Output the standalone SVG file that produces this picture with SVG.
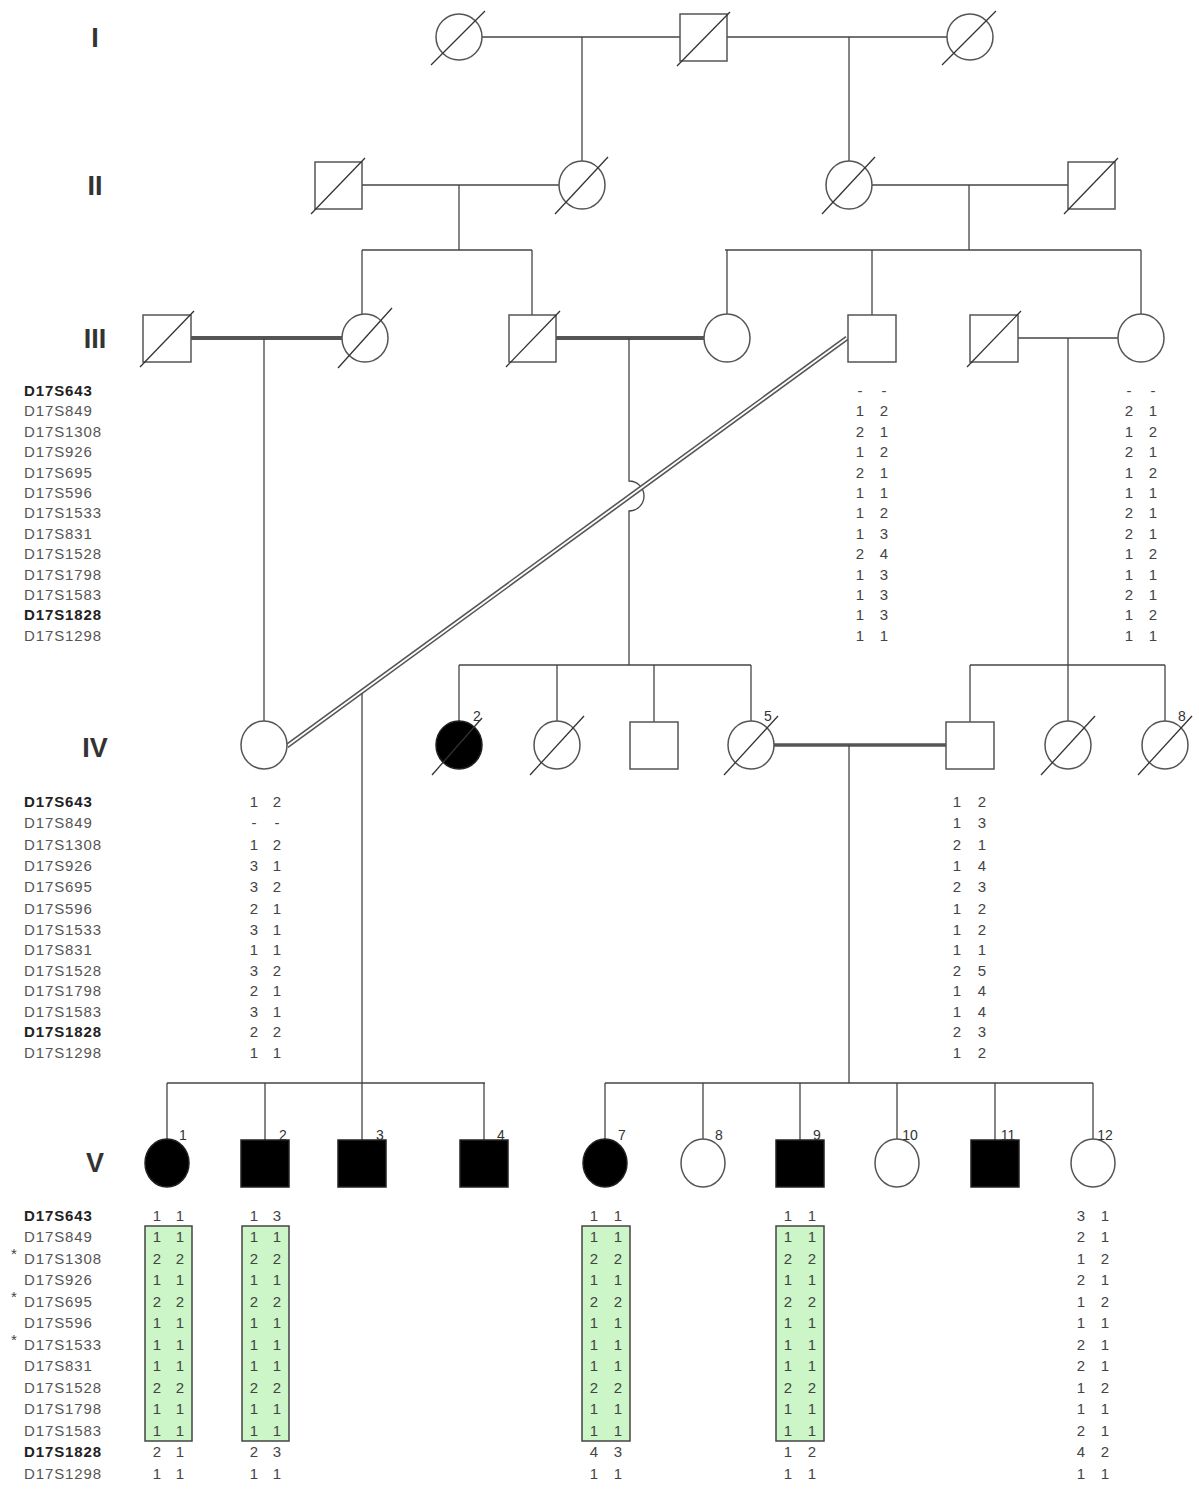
<svg xmlns="http://www.w3.org/2000/svg" width="1199" height="1494" viewBox="0 0 1199 1494">
<style>
.bg{fill:#fff}
.ln{stroke:#444;stroke-width:1.3;fill:none}
.thick{stroke:#555;stroke-width:4;fill:none}
.sh{stroke:#555;stroke-width:1.5;fill:#fff}
.aff{stroke:#222;stroke-width:1.5;fill:#000}
.sl{stroke:#333;stroke-width:1.3}
.gen{font-family:"Liberation Sans",Arial,sans-serif;font-weight:bold;font-size:27px;fill:#333;text-anchor:middle}
.nm{font-family:"Liberation Sans",Arial,sans-serif;font-size:15px;letter-spacing:0.9px;fill:#555}
.nb{font-weight:bold;fill:#222}
.v{font-family:"Liberation Sans",Arial,sans-serif;font-size:15px;fill:#444;text-anchor:middle}
.lab{font-family:"Liberation Sans",Arial,sans-serif;font-size:14px;fill:#333;text-anchor:middle}
.box{fill:#ccf5c8;stroke:#444;stroke-width:1.5}
</style>
<rect class="bg" x="0" y="0" width="1199" height="1494"/>

<g id="generation-labels">
<text class="gen" x="95" y="47">I</text>
<text class="gen" x="95" y="195">II</text>
<text class="gen" x="95" y="348">III</text>
<text class="gen" x="95" y="757">IV</text>
<text class="gen" x="95" y="1172">V</text>
</g>

<g id="connectors">
<line class="ln" x1="482" y1="37" x2="680" y2="37"/>
<line class="ln" x1="727" y1="37" x2="947" y2="37"/>
<line class="ln" x1="582" y1="37" x2="582" y2="162"/>
<line class="ln" x1="849" y1="37" x2="849" y2="162"/>
<line class="ln" x1="362" y1="185" x2="559" y2="185"/>
<line class="ln" x1="459" y1="185" x2="459" y2="250"/>
<line class="ln" x1="872" y1="185" x2="1068" y2="185"/>
<line class="ln" x1="969" y1="185" x2="969" y2="250"/>
<line class="ln" x1="362" y1="250" x2="532" y2="250"/>
<line class="ln" x1="362" y1="250" x2="362" y2="315"/>
<line class="ln" x1="532" y1="250" x2="532" y2="315"/>
<line class="ln" x1="725" y1="250" x2="1141" y2="250"/>
<line class="ln" x1="727" y1="250" x2="727" y2="315"/>
<line class="ln" x1="872" y1="250" x2="872" y2="315"/>
<line class="ln" x1="1141" y1="250" x2="1141" y2="315"/>
<line class="thick" x1="191" y1="338" x2="342" y2="338"/>
<line class="ln" x1="264" y1="338" x2="264" y2="722"/>
<line class="thick" x1="556" y1="338" x2="704" y2="338"/>
<path class="ln" d="M629,338 L629,481 A15,15 0 0 1 629,511 L629,665"/>
<line class="ln" x1="1018" y1="338" x2="1118" y2="338"/>
<line class="ln" x1="1068" y1="338" x2="1068" y2="722"/>
<line x1="847" y1="338" x2="287" y2="746" stroke="#555" stroke-width="5"/>
<line x1="847" y1="338" x2="287" y2="746" stroke="#fff" stroke-width="1.8"/>
<line class="ln" x1="362" y1="693" x2="362" y2="1083"/>
<line class="ln" x1="459" y1="665" x2="751" y2="665"/>
<line class="ln" x1="459" y1="665" x2="459" y2="722"/>
<line class="ln" x1="557" y1="665" x2="557" y2="722"/>
<line class="ln" x1="654" y1="665" x2="654" y2="722"/>
<line class="ln" x1="751" y1="665" x2="751" y2="722"/>
<line class="ln" x1="970" y1="665" x2="1165" y2="665"/>
<line class="ln" x1="970" y1="665" x2="970" y2="722"/>
<line class="ln" x1="1165" y1="665" x2="1165" y2="722"/>
<line class="thick" x1="774" y1="745" x2="946" y2="745" style="stroke-width:3.5"/>
<line class="ln" x1="849" y1="745" x2="849" y2="1083"/>
<line class="ln" x1="167" y1="1083" x2="485" y2="1083"/>
<line class="ln" x1="167" y1="1083" x2="167" y2="1140"/>
<line class="ln" x1="265" y1="1083" x2="265" y2="1140"/>
<line class="ln" x1="362" y1="1083" x2="362" y2="1140"/>
<line class="ln" x1="484" y1="1083" x2="484" y2="1140"/>
<line class="ln" x1="605" y1="1083" x2="1093" y2="1083"/>
<line class="ln" x1="605" y1="1083" x2="605" y2="1140"/>
<line class="ln" x1="703" y1="1083" x2="703" y2="1140"/>
<line class="ln" x1="800" y1="1083" x2="800" y2="1140"/>
<line class="ln" x1="897" y1="1083" x2="897" y2="1140"/>
<line class="ln" x1="995" y1="1083" x2="995" y2="1140"/>
<line class="ln" x1="1093" y1="1083" x2="1093" y2="1140"/>
</g>

<g id="I-1"><ellipse class="sh" cx="459" cy="37" rx="23" ry="23"/><line class="sl" x1="431" y1="65" x2="485" y2="11"/></g>
<g id="I-2"><rect class="sh" x="680" y="14" width="47" height="47"/><line class="sl" x1="677" y1="66" x2="730" y2="12"/></g>
<g id="I-3"><ellipse class="sh" cx="970" cy="37" rx="23" ry="23"/><line class="sl" x1="942" y1="65" x2="996" y2="11"/></g>

<g id="II-1"><rect class="sh" x="315" y="162" width="47" height="47"/><line class="sl" x1="311" y1="214" x2="365" y2="158"/></g>
<g id="II-2"><ellipse class="sh" cx="582" cy="185" rx="23" ry="24"/><line class="sl" x1="555" y1="214" x2="608" y2="157"/></g>
<g id="II-3"><ellipse class="sh" cx="849" cy="185" rx="23" ry="24"/><line class="sl" x1="822" y1="214" x2="875" y2="157"/></g>
<g id="II-4"><rect class="sh" x="1068" y="162" width="47" height="47"/><line class="sl" x1="1064" y1="214" x2="1118" y2="158"/></g>

<g id="III-1"><rect class="sh" x="143" y="315" width="48" height="47"/><line class="sl" x1="140" y1="367" x2="194" y2="311"/></g>
<g id="III-2"><ellipse class="sh" cx="365" cy="338" rx="23" ry="24"/><line class="sl" x1="338" y1="368" x2="392" y2="308"/></g>
<g id="III-3"><rect class="sh" x="509" y="315" width="47" height="47"/><line class="sl" x1="506" y1="367" x2="560" y2="311"/></g>
<g id="III-4"><ellipse class="sh" cx="727" cy="338" rx="23" ry="24"/></g>
<g id="III-5"><rect class="sh" x="848" y="315" width="48" height="47"/></g>
<g id="III-6"><rect class="sh" x="970" y="315" width="48" height="47"/><line class="sl" x1="967" y1="367" x2="1021" y2="311"/></g>
<g id="III-7"><ellipse class="sh" cx="1141" cy="338" rx="23" ry="24"/></g>

<g id="IV-1"><ellipse class="sh" cx="264" cy="745" rx="23" ry="24"/></g>
<g id="IV-2"><ellipse class="aff" cx="459" cy="745" rx="23" ry="24"/><line class="sl" x1="432" y1="775" x2="482" y2="718"/><text class="lab" x="477" y="721">2</text></g>
<g id="IV-3"><ellipse class="sh" cx="557" cy="745" rx="23" ry="24"/><line class="sl" x1="530" y1="775" x2="584" y2="716"/></g>
<g id="IV-4"><rect class="sh" x="630" y="722" width="48" height="47"/></g>
<g id="IV-5"><ellipse class="sh" cx="751" cy="745" rx="23" ry="24"/><line class="sl" x1="724" y1="775" x2="778" y2="716"/><text class="lab" x="768" y="721">5</text></g>
<g id="IV-6"><rect class="sh" x="946" y="722" width="48" height="47"/></g>
<g id="IV-7"><ellipse class="sh" cx="1068" cy="745" rx="23" ry="24"/><line class="sl" x1="1041" y1="775" x2="1095" y2="716"/></g>
<g id="IV-8"><ellipse class="sh" cx="1165" cy="745" rx="23" ry="24"/><line class="sl" x1="1138" y1="775" x2="1192" y2="716"/><text class="lab" x="1182" y="721">8</text></g>

<g id="V-1"><ellipse class="aff" cx="167" cy="1163" rx="22" ry="24"/><text class="lab" x="183" y="1140">1</text></g>
<g id="V-2"><rect class="aff" x="241" y="1140" width="48" height="47"/><text class="lab" x="283" y="1140">2</text></g>
<g id="V-3"><rect class="aff" x="338" y="1140" width="48" height="47"/><text class="lab" x="380" y="1140">3</text></g>
<g id="V-4"><rect class="aff" x="460" y="1140" width="48" height="47"/><text class="lab" x="501" y="1140">4</text></g>
<g id="V-7"><ellipse class="aff" cx="605" cy="1163" rx="22" ry="24"/><text class="lab" x="622" y="1140">7</text></g>
<g id="V-8"><ellipse class="sh" cx="703" cy="1163" rx="22" ry="24"/><text class="lab" x="719" y="1140">8</text></g>
<g id="V-9"><rect class="aff" x="776" y="1140" width="48" height="47"/><text class="lab" x="817" y="1140">9</text></g>
<g id="V-10"><ellipse class="sh" cx="897" cy="1163" rx="22" ry="24"/><text class="lab" x="910" y="1140">10</text></g>
<g id="V-11"><rect class="aff" x="971" y="1140" width="48" height="47"/><text class="lab" x="1008" y="1140">11</text></g>
<g id="V-12"><ellipse class="sh" cx="1093" cy="1163" rx="22" ry="24"/><text class="lab" x="1105" y="1140">12</text></g>

<g id="markers-III">
<text class="nm nb" x="24" y="396">D17S643</text>
<text class="nm" x="24" y="416">D17S849</text>
<text class="nm" x="24" y="437">D17S1308</text>
<text class="nm" x="24" y="457">D17S926</text>
<text class="nm" x="24" y="478">D17S695</text>
<text class="nm" x="24" y="498">D17S596</text>
<text class="nm" x="24" y="518">D17S1533</text>
<text class="nm" x="24" y="539">D17S831</text>
<text class="nm" x="24" y="559">D17S1528</text>
<text class="nm" x="24" y="580">D17S1798</text>
<text class="nm" x="24" y="600">D17S1583</text>
<text class="nm nb" x="24" y="620">D17S1828</text>
<text class="nm" x="24" y="641">D17S1298</text>
</g>
<g id="haplo-III-5">
<text class="v" x="860 884" y="396">--</text>
<text class="v" x="860 884" y="416">12</text>
<text class="v" x="860 884" y="437">21</text>
<text class="v" x="860 884" y="457">12</text>
<text class="v" x="860 884" y="478">21</text>
<text class="v" x="860 884" y="498">11</text>
<text class="v" x="860 884" y="518">12</text>
<text class="v" x="860 884" y="539">13</text>
<text class="v" x="860 884" y="559">24</text>
<text class="v" x="860 884" y="580">13</text>
<text class="v" x="860 884" y="600">13</text>
<text class="v" x="860 884" y="620">13</text>
<text class="v" x="860 884" y="641">11</text>
</g>
<g id="haplo-III-7">
<text class="v" x="1129 1153" y="396">--</text>
<text class="v" x="1129 1153" y="416">21</text>
<text class="v" x="1129 1153" y="437">12</text>
<text class="v" x="1129 1153" y="457">21</text>
<text class="v" x="1129 1153" y="478">12</text>
<text class="v" x="1129 1153" y="498">11</text>
<text class="v" x="1129 1153" y="518">21</text>
<text class="v" x="1129 1153" y="539">21</text>
<text class="v" x="1129 1153" y="559">12</text>
<text class="v" x="1129 1153" y="580">11</text>
<text class="v" x="1129 1153" y="600">21</text>
<text class="v" x="1129 1153" y="620">12</text>
<text class="v" x="1129 1153" y="641">11</text>
</g>

<g id="markers-IV">
<text class="nm nb" x="24" y="807">D17S643</text>
<text class="nm" x="24" y="828">D17S849</text>
<text class="nm" x="24" y="850">D17S1308</text>
<text class="nm" x="24" y="871">D17S926</text>
<text class="nm" x="24" y="892">D17S695</text>
<text class="nm" x="24" y="914">D17S596</text>
<text class="nm" x="24" y="935">D17S1533</text>
<text class="nm" x="24" y="955">D17S831</text>
<text class="nm" x="24" y="976">D17S1528</text>
<text class="nm" x="24" y="996">D17S1798</text>
<text class="nm" x="24" y="1017">D17S1583</text>
<text class="nm nb" x="24" y="1037">D17S1828</text>
<text class="nm" x="24" y="1058">D17S1298</text>
</g>
<g id="haplo-IV-1">
<text class="v" x="254 277" y="807">12</text>
<text class="v" x="254 277" y="828">--</text>
<text class="v" x="254 277" y="850">12</text>
<text class="v" x="254 277" y="871">31</text>
<text class="v" x="254 277" y="892">32</text>
<text class="v" x="254 277" y="914">21</text>
<text class="v" x="254 277" y="935">31</text>
<text class="v" x="254 277" y="955">11</text>
<text class="v" x="254 277" y="976">32</text>
<text class="v" x="254 277" y="996">21</text>
<text class="v" x="254 277" y="1017">31</text>
<text class="v" x="254 277" y="1037">22</text>
<text class="v" x="254 277" y="1058">11</text>
</g>
<g id="haplo-IV-6">
<text class="v" x="957 982" y="807">12</text>
<text class="v" x="957 982" y="828">13</text>
<text class="v" x="957 982" y="850">21</text>
<text class="v" x="957 982" y="871">14</text>
<text class="v" x="957 982" y="892">23</text>
<text class="v" x="957 982" y="914">12</text>
<text class="v" x="957 982" y="935">12</text>
<text class="v" x="957 982" y="955">11</text>
<text class="v" x="957 982" y="976">25</text>
<text class="v" x="957 982" y="996">14</text>
<text class="v" x="957 982" y="1017">14</text>
<text class="v" x="957 982" y="1037">23</text>
<text class="v" x="957 982" y="1058">12</text>
</g>

<g id="markers-V">
<text class="nm nb" x="24" y="1221">D17S643</text>
<text class="nm" x="24" y="1242">D17S849</text>
<text class="nm" x="24" y="1264">D17S1308</text>
<text class="nm" x="24" y="1285">D17S926</text>
<text class="nm" x="24" y="1307">D17S695</text>
<text class="nm" x="24" y="1328">D17S596</text>
<text class="nm" x="24" y="1350">D17S1533</text>
<text class="nm" x="24" y="1371">D17S831</text>
<text class="nm" x="24" y="1393">D17S1528</text>
<text class="nm" x="24" y="1414">D17S1798</text>
<text class="nm" x="24" y="1436">D17S1583</text>
<text class="nm nb" x="24" y="1457">D17S1828</text>
<text class="nm" x="24" y="1479">D17S1298</text>
<text class="v" x="14" y="1259">*</text>
<text class="v" x="14" y="1302">*</text>
<text class="v" x="14" y="1345">*</text>
</g>

<g id="boxes">
<rect class="box" x="145" y="1226" width="47" height="215"/>
<rect class="box" x="242" y="1226" width="47" height="215"/>
<rect class="box" x="582" y="1226" width="48" height="215"/>
<rect class="box" x="776" y="1226" width="48" height="215"/>
</g>

<g id="haplo-V-1">
<text class="v" x="157 180" y="1221">11</text>
<text class="v" x="157 180" y="1242">11</text>
<text class="v" x="157 180" y="1264">22</text>
<text class="v" x="157 180" y="1285">11</text>
<text class="v" x="157 180" y="1307">22</text>
<text class="v" x="157 180" y="1328">11</text>
<text class="v" x="157 180" y="1350">11</text>
<text class="v" x="157 180" y="1371">11</text>
<text class="v" x="157 180" y="1393">22</text>
<text class="v" x="157 180" y="1414">11</text>
<text class="v" x="157 180" y="1436">11</text>
<text class="v" x="157 180" y="1457">21</text>
<text class="v" x="157 180" y="1479">11</text>
</g>
<g id="haplo-V-2">
<text class="v" x="254 277" y="1221">13</text>
<text class="v" x="254 277" y="1242">11</text>
<text class="v" x="254 277" y="1264">22</text>
<text class="v" x="254 277" y="1285">11</text>
<text class="v" x="254 277" y="1307">22</text>
<text class="v" x="254 277" y="1328">11</text>
<text class="v" x="254 277" y="1350">11</text>
<text class="v" x="254 277" y="1371">11</text>
<text class="v" x="254 277" y="1393">22</text>
<text class="v" x="254 277" y="1414">11</text>
<text class="v" x="254 277" y="1436">11</text>
<text class="v" x="254 277" y="1457">23</text>
<text class="v" x="254 277" y="1479">11</text>
</g>
<g id="haplo-V-7">
<text class="v" x="594 618" y="1221">11</text>
<text class="v" x="594 618" y="1242">11</text>
<text class="v" x="594 618" y="1264">22</text>
<text class="v" x="594 618" y="1285">11</text>
<text class="v" x="594 618" y="1307">22</text>
<text class="v" x="594 618" y="1328">11</text>
<text class="v" x="594 618" y="1350">11</text>
<text class="v" x="594 618" y="1371">11</text>
<text class="v" x="594 618" y="1393">22</text>
<text class="v" x="594 618" y="1414">11</text>
<text class="v" x="594 618" y="1436">11</text>
<text class="v" x="594 618" y="1457">43</text>
<text class="v" x="594 618" y="1479">11</text>
</g>
<g id="haplo-V-9">
<text class="v" x="788 812" y="1221">11</text>
<text class="v" x="788 812" y="1242">11</text>
<text class="v" x="788 812" y="1264">22</text>
<text class="v" x="788 812" y="1285">11</text>
<text class="v" x="788 812" y="1307">22</text>
<text class="v" x="788 812" y="1328">11</text>
<text class="v" x="788 812" y="1350">11</text>
<text class="v" x="788 812" y="1371">11</text>
<text class="v" x="788 812" y="1393">22</text>
<text class="v" x="788 812" y="1414">11</text>
<text class="v" x="788 812" y="1436">11</text>
<text class="v" x="788 812" y="1457">12</text>
<text class="v" x="788 812" y="1479">11</text>
</g>
<g id="haplo-V-12">
<text class="v" x="1081 1105" y="1221">31</text>
<text class="v" x="1081 1105" y="1242">21</text>
<text class="v" x="1081 1105" y="1264">12</text>
<text class="v" x="1081 1105" y="1285">21</text>
<text class="v" x="1081 1105" y="1307">12</text>
<text class="v" x="1081 1105" y="1328">11</text>
<text class="v" x="1081 1105" y="1350">21</text>
<text class="v" x="1081 1105" y="1371">21</text>
<text class="v" x="1081 1105" y="1393">12</text>
<text class="v" x="1081 1105" y="1414">11</text>
<text class="v" x="1081 1105" y="1436">21</text>
<text class="v" x="1081 1105" y="1457">42</text>
<text class="v" x="1081 1105" y="1479">11</text>
</g>
</svg>
